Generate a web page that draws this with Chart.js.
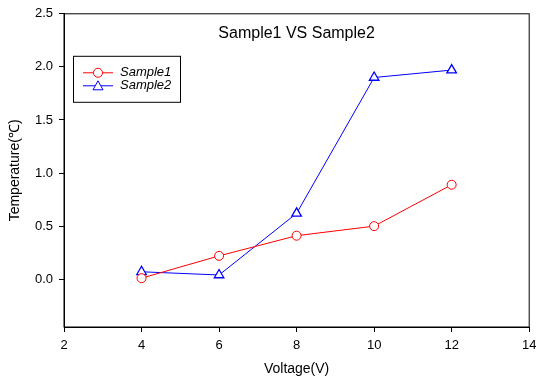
<!DOCTYPE html>
<html>
<head>
<meta charset="utf-8">
<script src="https://cdn.jsdelivr.net/npm/chart.js@4/dist/chart.umd.min.js"></script>
<style>
    html, body { margin: 0; padding: 0; background: #fff; }
    #wrap { width: 536px; height: 383px; }
</style>
</head>
<body>
<div id="wrap"><canvas id="chart"></canvas></div>
<script>
const voltage = [4, 6, 8, 10, 12];
const sample1 = [0.01, 0.22, 0.41, 0.50, 0.89];
const sample2 = [0.07, 0.04, 0.62, 1.90, 1.97];
const yTicks = [0.0, 0.5, 1.0, 1.5, 2.0, 2.5];
const seriesNames = ['Sample1', 'Sample2'];
const chartTitle = 'Sample1 VS Sample2';

const FONT = 'Arial, "Liberation Sans", sans-serif';

// title, legend box and the frame are drawn inside the plot area
const insidePlugin = {
    id: 'inside',
    afterDraw(chart) {
        const ctx = chart.ctx;
        const a = chart.chartArea;
        ctx.save();
        ctx.strokeStyle = '#000';
        ctx.lineWidth = 1;
        ctx.strokeRect(a.left, a.top, a.right - a.left, a.bottom - a.top);

        ctx.fillStyle = '#000';
        ctx.font = '16px ' + FONT;
        ctx.textAlign = 'center';
        ctx.textBaseline = 'middle';
        ctx.fillText(chartTitle, (a.left + a.right) / 2, a.top + 20);

        // legend
        const bx = a.left + 9, by = a.top + 42, bw = 107, bh = 46;
        ctx.strokeRect(bx + 0.5, by + 0.5, bw, bh);
        chart.data.datasets.forEach((ds, i) => {
            const y = by + 17 + i * 13;
            ctx.strokeStyle = ds.borderColor;
            ctx.beginPath();
            ctx.moveTo(bx + 10, y);
            ctx.lineTo(bx + 40, y);
            ctx.stroke();
            ctx.fillStyle = '#fff';
            ctx.beginPath();
            if (ds.pointStyle === 'triangle') {
                ctx.moveTo(bx + 25, y - 5);
                ctx.lineTo(bx + 30, y + 4);
                ctx.lineTo(bx + 20, y + 4);
                ctx.closePath();
            } else {
                ctx.arc(bx + 25, y, 4.5, 0, Math.PI * 2);
            }
            ctx.fill();
            ctx.stroke();
            ctx.fillStyle = '#000';
            ctx.font = 'italic 13px ' + FONT;
            ctx.textAlign = 'left';
            ctx.fillText(ds.label, bx + 47, y);
        });
        ctx.restore();
    }
};

new Chart(document.getElementById('chart'), {
    type: 'line',
    data: {
        datasets: [
            {
                label: seriesNames[0],
                data: voltage.map((v, i) => ({ x: v, y: sample1[i] })),
                borderColor: '#ff0000',
                backgroundColor: '#ffffff',
                borderWidth: 1,
                pointStyle: 'circle',
                pointRadius: 4.5,
                pointBorderWidth: 1,
                tension: 0
            },
            {
                label: seriesNames[1],
                data: voltage.map((v, i) => ({ x: v, y: sample2[i] })),
                borderColor: '#0000ff',
                backgroundColor: '#ffffff',
                borderWidth: 1,
                pointStyle: 'triangle',
                pointRadius: 5.5,
                pointBorderWidth: 1.3,
                tension: 0
            }
        ]
    },
    options: {
        responsive: true,
        maintainAspectRatio: false,
        animation: false,
        events: [],
        layout: { padding: { top: 12, right: 2, left: 0, bottom: 0 } },
        plugins: {
            legend: { display: false },
            tooltip: { enabled: false }
        },
        scales: {
            x: {
                type: 'linear',
                min: 2,
                max: 14,
                ticks: { stepSize: 2, color: '#000', padding: 6, font: { size: 13, family: FONT } },
                grid: { drawOnChartArea: false, tickLength: 5, color: '#000' },
                border: { display: true, color: '#000' },
                title: { display: true, text: 'Voltage(V)', color: '#000', font: { size: 14, family: FONT }, padding: { top: 0, bottom: 5 } },
                afterFit(scale) {
                    scale.height = 56;
                    // let the "14" label hang off the right edge like the original
                    scale.paddingRight = 0;
                    if (scale._margins) scale._margins.right = 0;
                }
            },
            y: {
                min: -0.45,
                max: 2.5,
                afterBuildTicks(scale) { scale.ticks = yTicks.map(v => ({ value: v })); },
                ticks: { color: '#000', padding: 6, font: { size: 13, family: FONT }, callback: v => v.toFixed(1) },
                grid: { drawOnChartArea: false, tickLength: 5, color: '#000' },
                border: { display: true, color: '#000' },
                title: { display: true, text: 'Temperature(℃)', color: '#000', font: { size: 14, family: FONT }, padding: { top: 7, bottom: 0 } },
                afterFit(scale) { scale.width = 64; }
            }
        }
    },
    plugins: [insidePlugin]
});
</script>
</body>
</html>
